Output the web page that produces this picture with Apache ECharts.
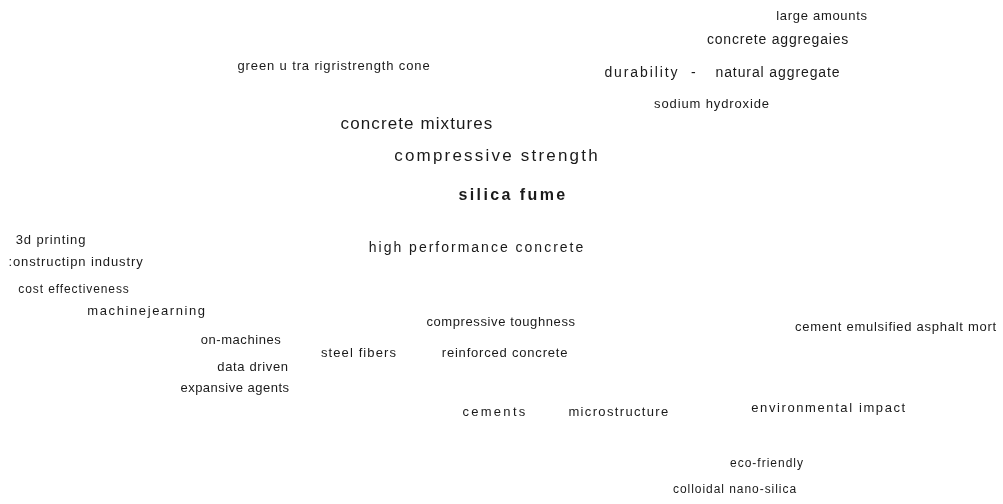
<!DOCTYPE html>
<html>
<head>
<meta charset="utf-8">
<script src="https://cdn.jsdelivr.net/npm/echarts@6/dist/echarts.min.js"></script>
<style>
html, body { margin: 0; padding: 0; background: #fff; }
#chart { width: 1003px; height: 504px; }
</style>
</head>
<body>
<div id="chart"></div>
<script>
// keyword cloud: layout coordinates + frequency per term
const words = [
	"large amounts", "concrete aggregaies", "green u tra rigristrength cone",
	"durability  -", "natural aggregate", "sodium hydroxide", "concrete mixtures",
	"compressive strength", "silica fume", "3d printing", ":onstructipn industry",
	"high performance concrete", "cost effectiveness", "machinejearning",
	"compressive toughness", "cement emulsified asphalt mort", "on-machines",
	"steel fibers", "reinforced concrete", "data driven", "expansive agents",
	"cements", "microstructure", "environmental impact", "eco-friendly",
	"colloidal nano-silica"
]
const xs = [822, 778, 334, 651, 778, 712, 417, 497, 513, 51, 76, 477, 74, 147, 501, 896, 241, 359, 505, 253, 235, 495, 619, 829, 767, 735]
const ys = [16, 40, 66, 73, 73, 104, 124, 156, 196, 240, 262, 248, 290, 311, 322, 327, 340, 353, 353, 367, 388, 412, 412, 408, 464, 490]
const freq = [30, 40, 30, 40, 40, 30, 70, 70, 60, 30, 30, 40, 20, 30, 30, 30, 30, 30, 30, 30, 30, 30, 30, 30, 20, 20]
const topWord = "silica fume"

// letter spacing (px) used when drawing each term
const tracking = [0.7, 0.8, 0.87, 1.9, 0.9, 0.87, 1.1, 2.2, 2.4, 0.9, 0.9, 2.0, 0.9, 1.6, 0.6, 0.73, 0.55, 1.1, 0.8, 0.64, 0.5, 2.3, 1.35, 1.6, 1.0, 0.95]
const spacingOf = {}
words.forEach((w, i) => { spacingOf[w] = tracking[i] })

const origFillText = CanvasRenderingContext2D.prototype.fillText
CanvasRenderingContext2D.prototype.fillText = function (t, x, y, maxW) {
	this.letterSpacing = (spacingOf[t] || 0) + "px"
	return maxW === undefined ? origFillText.call(this, t, x, y) : origFillText.call(this, t, x, y, maxW)
}

const chart = echarts.init(document.getElementById("chart"))

const fontFor = f => Math.round(10 + f / 10)

const option = {
	animation: false,
	grid: { left: 0, right: 0, top: 0, bottom: 0 },
	xAxis: { type: "value", min: 0, max: 1003, show: false },
	yAxis: { type: "value", min: 0, max: 504, inverse: true, show: false },
	series: [
		{
			type: "scatter",
			symbolSize: 0,
			itemStyle: { opacity: 1 },
			emphasis: { disabled: true },
			data: words.map((w, i) => ({
				name: w,
				value: [xs[i], ys[i]],
				label: {
					fontSize: fontFor(freq[i]),
					fontWeight: w === topWord ? "bold" : "normal"
				}
			})),
			label: {
				show: true,
				position: "inside",
				align: "center",
				verticalAlign: "middle",
				formatter: p => p.name,
				color: "#1a1a1a",
				fontFamily: "Liberation Sans, Arial, sans-serif"
			}
		}
	]
}
chart.setOption(option)
</script>
</body>
</html>
